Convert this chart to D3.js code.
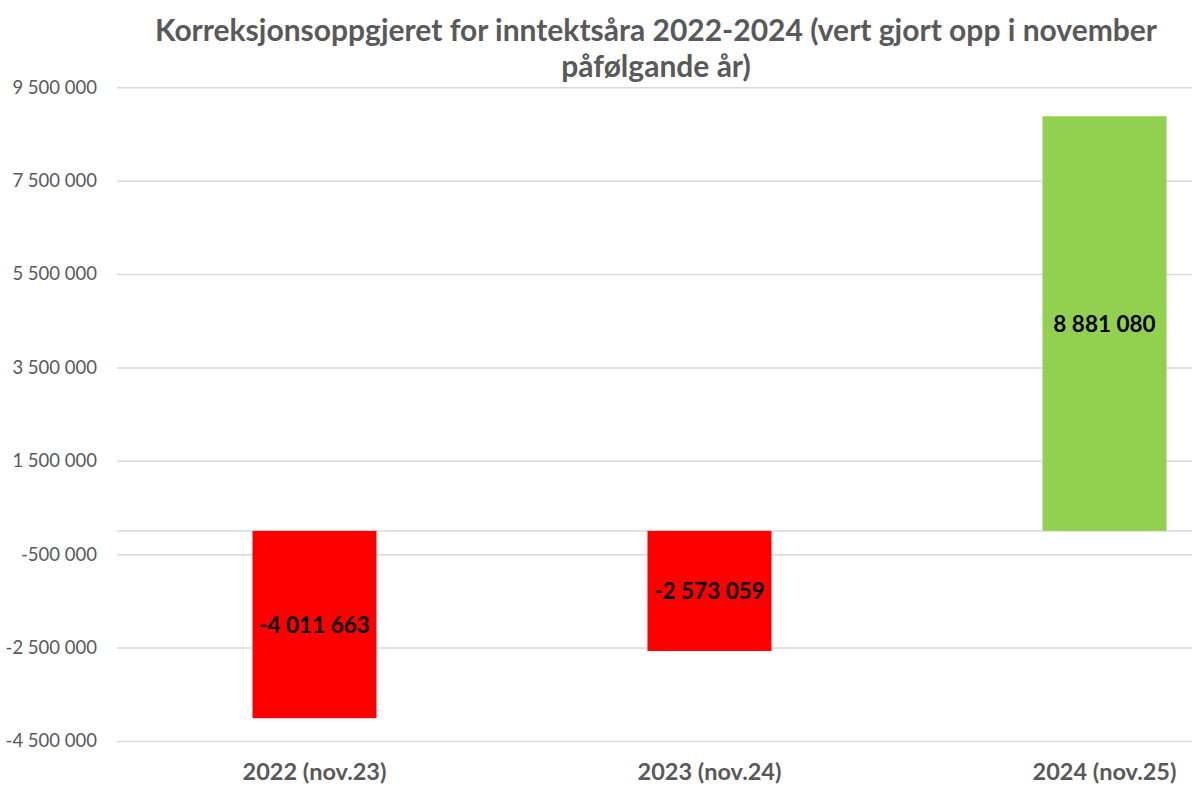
<!DOCTYPE html>
<html>
<head>
<meta charset="utf-8">
<script src="https://cdn.jsdelivr.net/npm/d3@7"></script>
<style>
  html, body { margin: 0; padding: 0; background: #fff; }
  svg { display: block; }
</style>
</head>
<body>
<svg id="chart" width="1192" height="787"></svg>
<script>
const categories = ["2022 (nov.23)", "2023 (nov.24)", "2024 (nov.25)"];
const values = [-4011663, -2573059, 8881080];
const barColors = ["#FF0000", "#FF0000", "#92D050"];
const tickValues = [9500000, 7500000, 5500000, 3500000, 1500000, -500000, -2500000, -4500000];
const titleLines = ["Korreksjonsoppgjeret for inntektsåra 2022-2024 (vert gjort opp i november", "påfølgande år)"];

const svg = d3.select("#chart");
const W = 1192, H = 787;
const margin = { left: 117, right: -110, top: 87.3, bottom: 46 };
const fmt = v => (v < 0 ? "-" : "") + d3.format(",")(Math.abs(v)).replace(/,/g, " ");

const x = d3.scaleBand().domain(categories)
  .range([margin.left, W - margin.right]).paddingInner(0.686).paddingOuter(0.343);
const y = d3.scaleLinear().domain([-4500000, 9500000]).range([H - margin.bottom, margin.top]);

// gridlines + tick labels
const yAxis = d3.axisLeft(y).tickValues(tickValues).tickFormat(fmt)
  .tickSize(-(W - margin.right - margin.left)).tickPadding(20);
const gy = svg.append("g").attr("transform", `translate(${margin.left},0)`).call(yAxis);
gy.select(".domain").remove();
gy.selectAll(".tick line").attr("stroke", "#d9d9d9").attr("stroke-width", 1.5);
gy.selectAll(".tick text").attr("fill", "#595959")
  .style("font-family", "Lato, sans-serif").style("font-size", "18.5px");

// zero axis line
svg.append("line")
  .attr("x1", margin.left).attr("x2", W - margin.right)
  .attr("y1", y(0)).attr("y2", y(0))
  .attr("stroke", "#d9d9d9").attr("stroke-width", 1.5);

// bars
svg.append("g").selectAll("rect").data(values).join("rect")
  .attr("x", (d, i) => x(categories[i]))
  .attr("width", x.bandwidth())
  .attr("y", d => y(Math.max(0, d)))
  .attr("height", d => Math.abs(y(d) - y(0)))
  .attr("fill", (d, i) => barColors[i]);

// data labels
svg.append("g").selectAll("text").data(values).join("text")
  .attr("x", (d, i) => x(categories[i]) + x.bandwidth() / 2)
  .attr("y", d => (y(d) + y(0)) / 2)
  .attr("text-anchor", "middle").attr("dominant-baseline", "central")
  .style("font-family", "Lato, sans-serif").style("font-weight", "bold").style("font-size", "22.5px")
  .attr("fill", "#000")
  .text(d => fmt(d));

// category labels
svg.append("g").selectAll("text").data(categories).join("text")
  .attr("x", d => x(d) + x.bandwidth() / 2)
  .attr("y", 780)
  .attr("text-anchor", "middle")
  .style("font-family", "Lato, sans-serif").style("font-weight", "bold").style("font-size", "23.5px")
  .attr("fill", "#595959")
  .text(d => d);

// title
svg.append("g").selectAll("text").data(titleLines).join("text")
  .attr("x", 656)
  .attr("y", (d, i) => 41 + i * 36)
  .attr("text-anchor", "middle")
  .style("font-family", "Lato, sans-serif").style("font-weight", "bold").style("font-size", "30px")
  .attr("fill", "#595959")
  .text(d => d);
</script>
</body>
</html>
